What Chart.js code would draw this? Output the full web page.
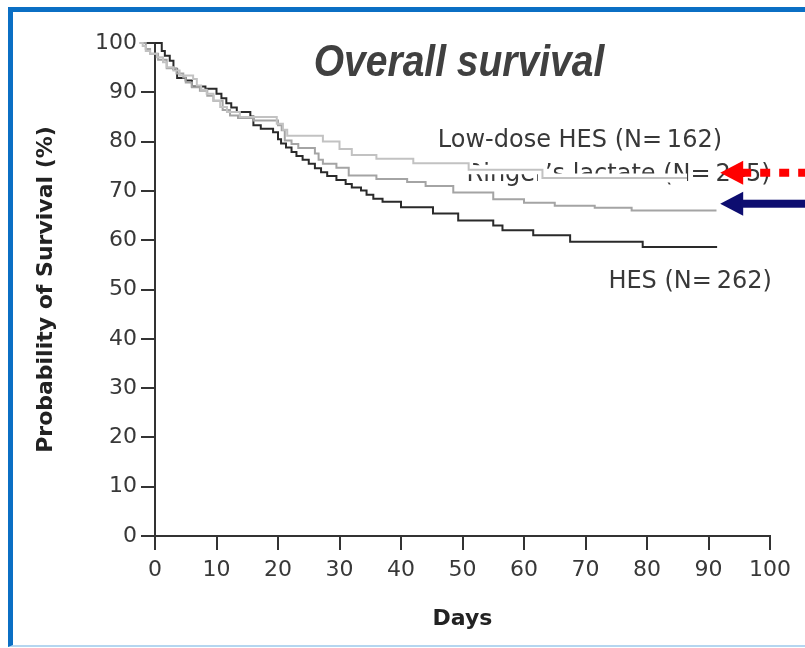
<!DOCTYPE html>
<html><head><meta charset="utf-8">
<script src="https://cdn.jsdelivr.net/npm/chart.js@4.4.1/dist/chart.umd.min.js"></script>
<style>
html,body{margin:0;padding:0;background:#fff;overflow:hidden;width:805px;height:648px;}
#frame{position:absolute;left:8px;top:7px;width:900px;height:633px;border-left:5px solid #0b6fc4;border-top:5px solid #0b6fc4;border-bottom:2px solid #b5d6f0;}
#wrap{position:absolute;left:0;top:0;width:805px;height:648px;}
</style></head><body>
<div id="frame"></div>
<div id="wrap"><canvas id="c" width="805" height="648"></canvas></div>
<script>
// Kaplan-Meier curves (day, survival %)
const lowDoseDays = [-2.5,-2.0,-1.5,-0.8,0.3,1.3,1.9,3.0,4.0,6.2,6.8,7.5,8.4,9.5,10.6,11.7,13.8,19.8,20.8,21.5,27.3,30.0,32.0,36.0,42.0,51.0,63.0,86.5];
const lowDoseSurv = [100,99.4,98.4,97.8,97.1,96.1,95.1,94.4,93.4,92.7,91.4,90.5,89.7,88.3,87.0,86.0,85.0,83.6,82.4,81.2,80.0,78.5,77.3,76.5,75.6,74.3,72.6,72.6];

const ringerDays = [-2.5,-1.5,-0.8,0.5,1.9,3.5,4.6,5.0,6.0,7.3,8.5,9.5,11.0,12.2,13.5,16.0,20.0,20.6,21.1,22.2,23.3,26.0,26.6,27.3,29.5,31.5,36.0,41.0,44.0,48.5,55.0,60.0,65.0,71.5,77.5,91.3];
const ringerSurv = [100,98.8,97.8,96.6,94.9,93.8,93.0,92.0,91.0,90.3,89.3,88.3,86.4,85.3,84.8,84.3,83.3,82.3,80.2,79.5,78.7,77.6,76.3,75.5,74.7,73.1,72.4,71.8,71.0,69.7,68.3,67.6,67.0,66.6,66.0,66.0];

const hesDays = [0,1.1,1.6,2.4,3.0,3.6,5.0,6.0,8.2,10.0,10.8,11.6,12.4,13.3,15.5,16.0,17.2,19.2,20.0,20.5,21.3,22.2,23.0,24.0,25.0,26.0,27.0,28.0,29.5,31.0,32.0,33.5,34.4,35.5,37.0,40.0,45.2,49.3,55.0,56.5,61.5,67.5,79.3,91.4];
const hesSurv = [100,98.4,97.4,96.4,94.7,92.9,92.4,91.2,90.7,89.7,88.8,87.8,86.9,86.0,85.1,83.3,82.6,81.9,80.5,79.6,78.8,77.9,77.1,76.3,75.5,74.6,73.8,73.0,72.2,71.4,70.7,70.1,69.2,68.4,67.8,66.7,65.4,64.0,63.0,62.0,61.0,59.7,58.6,58.6];

const seriesNames = ["Low-dose HES (N=\u2009162)", "Ringer\u2019s lactate (N=\u2009245)", "HES (N=\u2009262)"];
const xTicks = [0,10,20,30,40,50,60,70,80,90,100];
const yTicks = [0,10,20,30,40,50,60,70,80,90,100];
const chartTitle = "Overall survival";
const xTitle = "Days";
const yTitle = "Probability of Survival (%)";

// label anchors (day, %) and arrow tips (day, %)
const labelAnchors = [[92.2, 78.9], [100.1, 72.0], [100.3, 50.4]];
const arrowTips = [[91.9, 73.7], [91.9, 67.4]];

function pts(d, s){ return d.map((v,i)=>({x:v, y:s[i]})); }

const FONT = '"DejaVu Sans", sans-serif';
const TXT = '#383838';

const overlay = {
  id: 'overlay',
  beforeDatasetsDraw(chart){
    const {ctx, scales:{x, y}} = chart;
    ctx.save();
    ctx.font = '24px ' + FONT;
    ctx.fillStyle = TXT;
    ctx.textAlign = 'right';
    ctx.textBaseline = 'alphabetic';
    const boxes = [];
    seriesNames.forEach((n,i)=>{
      const px = x.getPixelForValue(labelAnchors[i][0]), py = y.getPixelForValue(labelAnchors[i][1]);
      ctx.fillText(n, px, py);
      boxes.push([px - ctx.measureText(n).width, py - 24, ctx.measureText(n).width, 32]);
    });
    ctx.restore();
    // white halo of the low-dose curve where it crosses the Ringer's label
    const b = boxes[1];
    ctx.save();
    ctx.beginPath(); ctx.rect(b[0], b[1], b[2], b[3]); ctx.clip();
    ctx.strokeStyle = '#ffffff'; ctx.lineWidth = 9; ctx.lineJoin = 'miter';
    ctx.beginPath();
    lowDoseDays.forEach((d,i)=>{
      const px = x.getPixelForValue(d), py = y.getPixelForValue(lowDoseSurv[i]);
      if (i === 0) ctx.moveTo(px, py);
      else { ctx.lineTo(px, y.getPixelForValue(lowDoseSurv[i-1])); ctx.lineTo(px, py); }
    });
    ctx.stroke();
    ctx.restore();
  },
  afterDraw(chart){
    const {ctx, scales:{x, y}} = chart;
    // title
    ctx.save();
    ctx.font = 'italic bold 39px "Liberation Sans", Arial, sans-serif';
    ctx.fillStyle = '#404040';
    ctx.textAlign = 'center';
    ctx.textBaseline = 'alphabetic';
    ctx.translate(459, 75.5);
    ctx.scale(1, 1.15);
    ctx.fillText(chartTitle, 0, 0);
    ctx.restore();
    // red dotted arrow
    let tx = x.getPixelForValue(arrowTips[0][0]), ty = y.getPixelForValue(arrowTips[0][1]);
    ctx.save();
    ctx.fillStyle = '#ff0000';
    ctx.beginPath(); ctx.moveTo(tx, ty); ctx.lineTo(tx+23, ty-12); ctx.lineTo(tx+23, ty+12); ctx.closePath(); ctx.fill();
    ctx.strokeStyle = '#ff0000'; ctx.lineWidth = 8; ctx.setLineDash([10,9]);
    ctx.beginPath(); ctx.moveTo(tx+21, ty); ctx.lineTo(830, ty); ctx.stroke();
    ctx.restore();
    // navy arrow
    tx = x.getPixelForValue(arrowTips[1][0]); ty = y.getPixelForValue(arrowTips[1][1]);
    ctx.save();
    ctx.fillStyle = '#0d0d70';
    ctx.beginPath(); ctx.moveTo(tx, ty); ctx.lineTo(tx+23, ty-12); ctx.lineTo(tx+23, ty+12); ctx.closePath(); ctx.fill();
    ctx.fillRect(tx+20, ty-4, 120, 8);
    ctx.restore();
  }
};

const axisCommon = {
  grid: {display:true, drawOnChartArea:false, drawTicks:true, tickLength:14, color:'#333', lineWidth:2},
  border: {display:true, color:'#333', width:2},
};

new Chart(document.getElementById('c').getContext('2d'), {
  type: 'line',
  data: { datasets: [
    {label: seriesNames[0], data: pts(lowDoseDays, lowDoseSurv), borderColor:'#c2c2c2', borderWidth:2, stepped:true, pointRadius:0, clip:false, fill:false},
    {label: seriesNames[1], data: pts(ringerDays, ringerSurv), borderColor:'#a4a4a4', borderWidth:2, stepped:true, pointRadius:0, clip:false, fill:false},
    {label: seriesNames[2], data: pts(hesDays, hesSurv), borderColor:'#2a2a2a', borderWidth:2, stepped:true, pointRadius:0, clip:false, fill:false}
  ]},
  options: {
    responsive:false, animation:false, events:[],
    layout:{padding:{left:0, top:43, right:35, bottom:0}},
    plugins:{legend:{display:false}, tooltip:{enabled:false}, title:{display:false}},
    scales:{
      x:{type:'linear', position:'bottom',
        afterDataLimits(s){ s.min = xTicks[0]; s.max = xTicks[xTicks.length-1]; },
        afterFit(s){ s.height = 112; },
        afterBuildTicks(s){ s.ticks = xTicks.map(v=>({value:v})); },
        ticks:{autoSkip:false, maxRotation:0, padding:7, color:TXT, font:{family:FONT, size:22}},
        ...axisCommon,
        title:{display:true, text:xTitle, color:'#222', font:{family:FONT, size:22, weight:'bold'}, padding:{top:0, bottom:16}}
      },
      y:{min:0, max:100,
        afterFit(s){ s.width = 155; },
        afterBuildTicks(s){ s.ticks = yTicks.map(v=>({value:v})); },
        ticks:{autoSkip:false, padding:4, color:TXT, font:{family:FONT, size:22}},
        ...axisCommon,
        title:{display:true, text:yTitle, color:'#222', font:{family:FONT, size:22, weight:'bold'}, padding:{top:33, bottom:0}}
      }
    }
  },
  plugins:[overlay]
});
</script>
</body></html>
